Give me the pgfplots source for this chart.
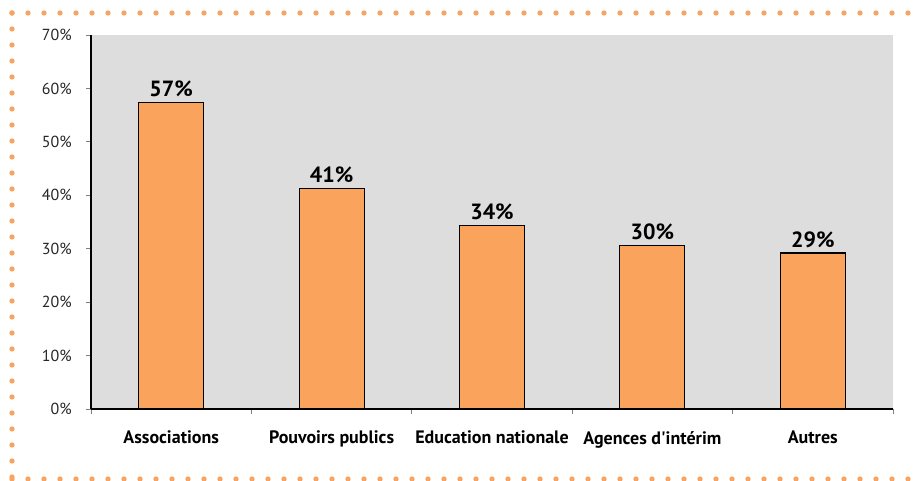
\documentclass[border=0pt]{standalone}
\usepackage{pgfplots}
\pgfplotsset{compat=1.18}
\usepackage{fontspec}
\setmainfont{PT Sans}
\definecolor{barc}{HTML}{F9A35D}
\definecolor{dotc}{HTML}{F8A360}
\definecolor{bgc}{HTML}{DDDDDD}
\begin{document}
\begin{tikzpicture}[x=0.75pt,y=0.75pt]
\useasboundingbox (0,0) rectangle (913,481);
% decorative dotted frame
\draw[dotc, line width=4pt, line cap=round, dash pattern=on 0pt off 12pt] (12,468) -- (913,468);
\draw[dotc, line width=4pt, line cap=round, dash pattern=on 0pt off 12pt] (12,468) -- (12,2);
\draw[dotc, line width=4pt, line cap=round, dash pattern=on 0pt off 12pt] (12,2) -- (913,2);
\begin{axis}[
  at={(68.25pt,54pt)}, anchor=south west,
  scale only axis, width=601.5pt, height=280.5pt,
  axis background/.style={fill=bgc},
  axis x line*=bottom, axis y line*=left,
  axis line style={black, line width=0.8pt, -},
  xmin=-0.5, xmax=4.5, ymin=0, ymax=70,
  xtick={0,1,2,3,4},
  xticklabels={Associations, Pouvoirs publics, Education nationale, Agences d\textquotesingle intérim, Autres},
  xticklabel style={font=\fontsize{13.5}{15}\selectfont\bfseries, text=black, yshift=-9pt},
  minor xtick={-0.5,0.5,1.5,2.5,3.5,4.5},
  major x tick style={draw=none},
  minor x tick style={gray, line width=0.6pt},
  minor tick length=4pt,
  ytick={0,10,...,70},
  yticklabel={\pgfmathprintnumber{\tick}\%},
  yticklabel style={font=\fontsize{12}{14}\selectfont, text=black!85, xshift=-7pt},
  y tick style={gray, line width=0.6pt},
  major tick length=4pt,
  tick align=outside,
  /pgf/number format/assume math mode=true,
  ybar, bar width=48.75pt,
  point meta=explicit symbolic,
  nodes near coords,
  every node near coord/.append style={font=\fontsize{16.5}{19}\selectfont\bfseries, text=black, yshift=0.5pt},
  clip=false,
]
\addplot[fill=barc, draw=black, line width=0.8pt] coordinates {
  (0,57.4) [57\%]
  (1,41.3) [41\%]
  (2,34.4) [34\%]
  (3,30.6) [30\%]
  (4,29.2) [29\%]
};
\end{axis}
\end{tikzpicture}
\end{document}
